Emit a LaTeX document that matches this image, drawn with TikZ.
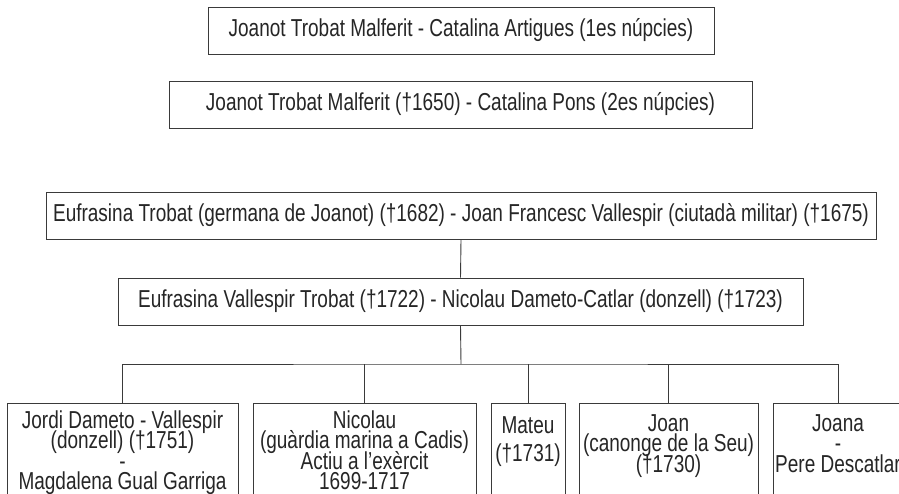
\documentclass[tikz,border=0pt]{standalone}
\usepackage{fontspec}
\setmainfont{Liberation Sans}[FakeStretch=0.775]
\definecolor{linec}{HTML}{3A3A3A}
\definecolor{textc}{HTML}{262626}
\begin{document}
\begin{tikzpicture}[x=1pt,y=-1pt,
  every node/.style={font=\fontsize{24.5}{20.5}\selectfont, text=textc},
  box/.style={draw=linec, line width=0.9pt, inner sep=0pt, minimum height=47pt},
  kid/.style={draw=linec, line width=0.9pt, inner xsep=0pt, inner ysep=7pt, anchor=north},
  conn/.style={draw=linec, line width=0.9pt}]
\useasboundingbox[fill=white] (0,0) rectangle (899,493);
\node[box, minimum width=506pt] (p1) at (461,30.5) {Joanot Trobat Malferit - Catalina Artigues (1es núpcies)};
\node[box, minimum width=583pt] (p2) at (460.5,104.5) {Joanot Trobat Malferit (†1650) - Catalina Pons (2es núpcies)};
\node[box, minimum width=830pt] (p3) at (461,215.5) {Eufrasina Trobat (germana de Joanot) (†1682) - Joan Francesc Vallespir (ciutadà militar) (†1675)};
\node[box, minimum width=685pt] (p4) at (460.5,301.5) {Eufrasina Vallespir Trobat (†1722) - Nicolau Dameto-Catlar (donzell) (†1723)};
\node[kid] (c1) at (122.5,403) {\parbox[t][100pt][t]{231pt}{\lineskiplimit=-100pt\centering Jordi Dameto - Vallespir\\(donzell) (†1751)\\-\\Magdalena Gual Garriga}};
\node[kid] (c2) at (364.5,403) {\parbox[t][100pt][t]{223pt}{\lineskiplimit=-100pt\centering Nicolau\\(guàrdia marina a Cadis)\\Actiu a l’exèrcit\\1699-1717}};
\node[kid, inner ysep=13pt] (c3) at (528,403) {\parbox[t][90pt][t]{74pt}{\lineskiplimit=-100pt\centering Mateu\\[7.5pt](†1731)}};
\node[kid, inner ysep=11pt] (c4) at (668.5,403) {\parbox[t][90pt][t]{179pt}{\lineskiplimit=-100pt\centering Joan\\(canonge de la Seu)\\(†1730)}};
\node[kid, inner ysep=11pt] (c5) at (838,403) {\parbox[t][90pt][t]{130pt}{\lineskiplimit=-100pt\centering Joana\\-\\Pere Descatlar}};
\coordinate (bus) at (461,364);
\draw[conn] (p3.south) -- (p4.north);
\draw[conn] (p4.south) -- (bus);
\draw[conn] (c1.north) |- (bus) -| (c5.north);
\draw[conn] (c2.north) -- (c2.north |- bus);
\draw[conn] (c3.north) -- (c3.north |- bus);
\draw[conn] (c4.north) -- (c4.north |- bus);
\end{tikzpicture}
\end{document}
